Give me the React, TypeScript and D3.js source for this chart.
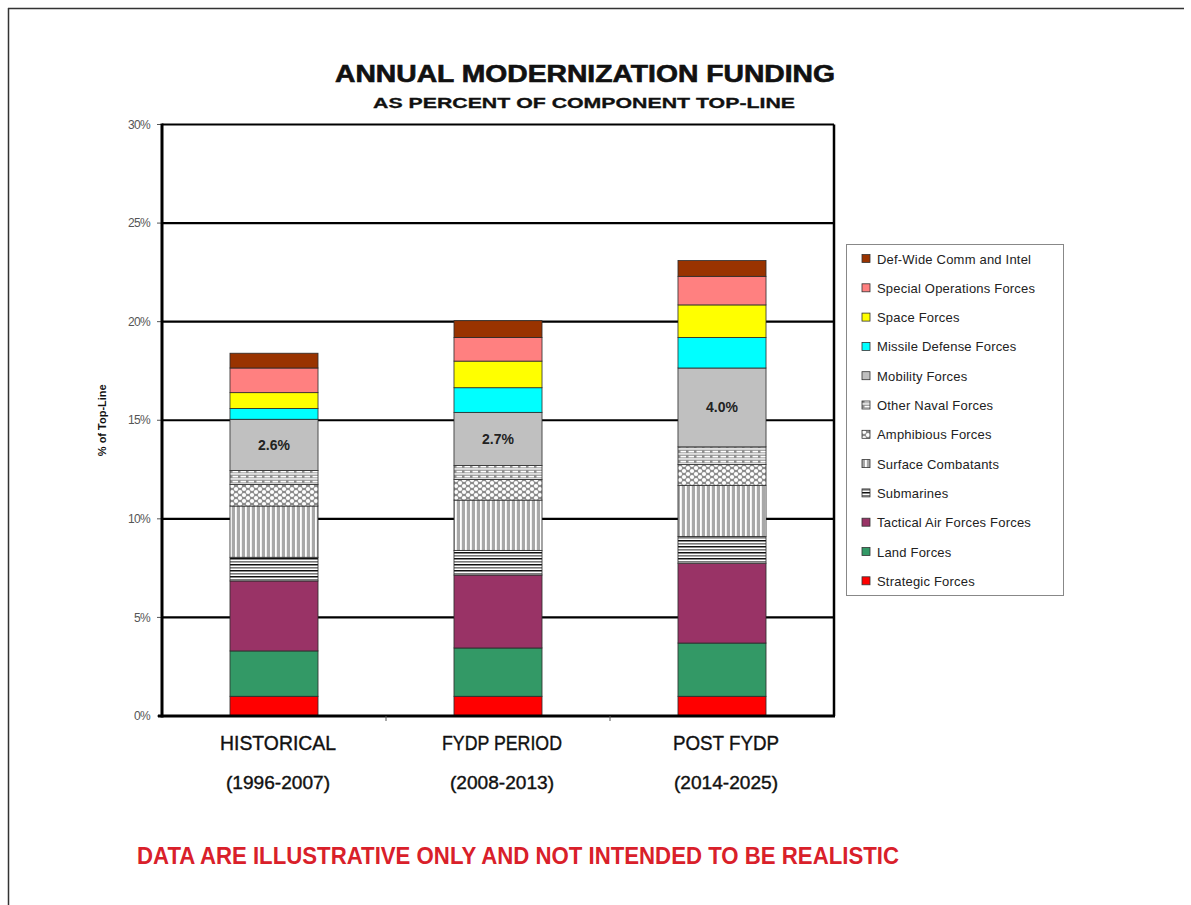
import React from "react";
import * as d3 from "d3";

// Periods on the x axis (two-line labels)
const periods = ["HISTORICAL", "FYDP PERIOD", "POST FYDP"];
const periodYears = ["(1996-2007)", "(2008-2013)", "(2014-2025)"];

// Stack order, bottom to top
const components = [
  "Strategic Forces",
  "Land Forces",
  "Tactical Air Forces Forces",
  "Submarines",
  "Surface Combatants",
  "Amphibious Forces",
  "Other Naval Forces",
  "Mobility Forces",
  "Missile Defense Forces",
  "Space Forces",
  "Special Operations Forces",
  "Def-Wide Comm and Intel",
];

// Percent of top-line per component, one array per period
const historical = [1.0, 2.3, 3.55, 1.2, 2.6, 1.1, 0.7, 2.6, 0.55, 0.8, 1.25, 0.75];
const fydpPeriod = [1.0, 2.45, 3.7, 1.25, 2.55, 1.05, 0.7, 2.7, 1.25, 1.35, 1.2, 0.85];
const postFydp = [1.0, 2.7, 4.05, 1.35, 2.6, 1.05, 0.9, 4.0, 1.55, 1.65, 1.45, 0.8];

const yTicks = [0, 5, 10, 15, 20, 25, 30];

// Fills: plain colours or pattern ids
const fills = [
  "#ff0000",
  "#339966",
  "#993366",
  "url(#pSub)",
  "url(#pSurf)",
  "url(#pAmph)",
  "url(#pNaval)",
  "#c0c0c0",
  "#00ffff",
  "#ffff00",
  "#ff8080",
  "#993300",
];

const W = 1191;
const H = 905;
const plot = { left: 162, right: 834, top: 124.5, bottom: 716 };
const narrow = "'Liberation Sans Narrow', 'Liberation Sans', Arial, sans-serif";

export default function App() {
  const series = [historical, fydpPeriod, postFydp];
  const rows = periods.map((p, i) => {
    const r: Record<string, any> = { period: p };
    components.forEach((c, j) => (r[c] = series[i][j]));
    return r;
  });
  const stacked = d3.stack<any>().keys(components)(rows);

  const x = d3.scaleBand<string>().domain(periods).range([plot.left, plot.right]).padding(0);
  const y = d3.scaleLinear().domain([0, 30]).range([plot.bottom, plot.top]);
  const barW = x.bandwidth() * 0.393;
  const mobilityIdx = components.indexOf("Mobility Forces");

  const legendX = 846;
  const legendY = 244;
  const legendW = 217;
  const legendH = 351;
  const legendItems = components.map((c, i) => ({ name: c, fill: fills[i] })).reverse();

  return (
    <svg
      width={W}
      height={H}
      style={{ position: "absolute", left: 0, top: 0, background: "#fff" }}
      fontFamily="'Liberation Sans', Arial, sans-serif"
    >
      <defs>
        <pattern id="pSub" patternUnits="userSpaceOnUse" width={8} height={6}>
          <rect width={8} height={6} fill="#ffffff" />
          <rect y={0} width={8} height={1.5} fill="#111" />
          <rect y={3} width={8} height={1.6} fill="#7a7a7a" />
        </pattern>
        <pattern id="pSurf" patternUnits="userSpaceOnUse" width={5} height={8}>
          <rect width={5} height={8} fill="#a8a8a8" />
          <rect x={0} width={1.8} height={8} fill="#ffffff" />
        </pattern>
        <pattern id="pAmph" patternUnits="userSpaceOnUse" width={8} height={6}>
          <rect width={8} height={6} fill="#8c8c8c" />
          <circle cx={0} cy={0} r={2.1} fill="#fff" />
          <circle cx={8} cy={0} r={2.1} fill="#fff" />
          <circle cx={0} cy={6} r={2.1} fill="#fff" />
          <circle cx={8} cy={6} r={2.1} fill="#fff" />
          <circle cx={4} cy={3} r={2.1} fill="#fff" />
        </pattern>
        <pattern id="pNaval" patternUnits="userSpaceOnUse" width={8} height={5}>
          <rect width={8} height={5} fill="#909090" />
          <rect x={0.5} y={0.8} width={5.5} height={1.6} fill="#fff" />
          <rect x={0} y={3.3} width={8} height={1.3} fill="#fff" />
        </pattern>
      </defs>

      {/* page frame */}
      <line x1={8} y1={8.5} x2={1184} y2={8.5} stroke="#333" strokeWidth={1.5} />
      <line x1={8.5} y1={8} x2={8.5} y2={H} stroke="#333" strokeWidth={1.5} />

      {/* titles */}
      <text x={585} y={82} textAnchor="middle" fontSize={23} fontWeight="bold" fill="#111" stroke="#111" strokeWidth={0.6} textLength={500} lengthAdjust="spacingAndGlyphs">
        ANNUAL MODERNIZATION FUNDING
      </text>
      <text x={584} y={108} textAnchor="middle" fontSize={14.5} fontWeight="bold" fill="#111" stroke="#111" strokeWidth={0.3} textLength={422} lengthAdjust="spacingAndGlyphs">
        AS PERCENT OF COMPONENT TOP-LINE
      </text>

      {/* gridlines */}
      {yTicks.filter((t) => t > 0).map((t) => (
        <line key={t} x1={plot.left} x2={plot.right} y1={y(t)} y2={y(t)} stroke="#000" strokeWidth={2.2} />
      ))}
      <line x1={plot.right} x2={plot.right} y1={y(30)} y2={plot.bottom} stroke="#000" strokeWidth={2.5} />

      {/* y ticks and labels */}
      {yTicks.map((t) => (
        <g key={t}>
          <line x1={157} x2={plot.left} y1={y(t)} y2={y(t)} stroke="#555" strokeWidth={1} />
          <text x={150} y={y(t)} dy="0.35em" textAnchor="end" fontSize={12} fill="#555" letterSpacing={-0.7}>
            {t}%
          </text>
        </g>
      ))}
      <text
        transform={`translate(106,${(plot.top + plot.bottom) / 2}) rotate(-90)`}
        textAnchor="middle"
        fontSize={11}
        fontWeight="bold"
        fill="#111"
      >
        % of Top-Line
      </text>

      {/* stacked bars */}
      {stacked.map((layer, li) =>
        layer.map((d, bi) => {
          const cx = (x(periods[bi]) as number) + x.bandwidth() / 2;
          return (
            <rect
              key={`${li}-${bi}`}
              x={cx - barW / 2}
              y={y(d[1])}
              width={barW}
              height={y(d[0]) - y(d[1])}
              fill={fills[li]}
              stroke="#2a2a2a"
              strokeWidth={0.8}
            />
          );
        })
      )}

      {/* mobility value labels */}
      {stacked[mobilityIdx].map((d, bi) => {
        const cx = (x(periods[bi]) as number) + x.bandwidth() / 2;
        return (
          <text key={bi} x={cx} y={y((d[0] + d[1]) / 2)} dy="0.35em" textAnchor="middle" fontSize={14} fontWeight="bold" fill="#222">
            {series[bi][mobilityIdx].toFixed(1)}%
          </text>
        );
      })}

      {/* axes */}
      <line x1={plot.left} x2={plot.left} y1={y(30) - 1} y2={plot.bottom + 1.5} stroke="#000" strokeWidth={3} />
      <line x1={plot.left - 4} x2={plot.right + 1} y1={plot.bottom} y2={plot.bottom} stroke="#000" strokeWidth={3} />
      {periods.slice(1).map((p) => (
        <line key={p} x1={x(p) as number} x2={x(p) as number} y1={plot.bottom} y2={plot.bottom + 5} stroke="#555" strokeWidth={1} />
      ))}

      {/* x labels */}
      {periods.map((p, i) => {
        const cx = (x(p) as number) + x.bandwidth() / 2 + 4;
        return (
          <g key={p}>
            <text x={cx} y={750} textAnchor="middle" fontSize={21} fill="#111" stroke="#111" strokeWidth={0.4} fontFamily={narrow} textLength={[116, 120, 106][i]} lengthAdjust="spacingAndGlyphs">
              {p}
            </text>
            <text x={cx} y={789} textAnchor="middle" fontSize={19} fill="#111" stroke="#111" strokeWidth={0.4} fontFamily={narrow} textLength={104} lengthAdjust="spacingAndGlyphs">
              {periodYears[i]}
            </text>
          </g>
        );
      })}

      {/* legend */}
      <rect x={legendX + 0.5} y={legendY + 0.5} width={legendW} height={legendH} fill="#fff" stroke="#888" strokeWidth={1} />
      {legendItems.map((it, i) => {
        const cy = legendY + 15 + i * 29.3;
        return (
          <g key={it.name}>
            <rect x={862} y={cy - 4.5} width={8} height={8} fill={it.fill} stroke="#333" strokeWidth={0.8} />
            <text x={877} y={cy} dy="0.35em" fontSize={13} fill="#222" letterSpacing={0.2}>
              {it.name}
            </text>
          </g>
        );
      })}

      {/* disclaimer */}
      <text x={518} y={864} textAnchor="middle" fontSize={24} fontWeight="bold" fill="#d9202a" fontFamily={narrow} textLength={762} lengthAdjust="spacingAndGlyphs">
        DATA ARE ILLUSTRATIVE ONLY AND NOT INTENDED TO BE REALISTIC
      </text>
    </svg>
  );
}
